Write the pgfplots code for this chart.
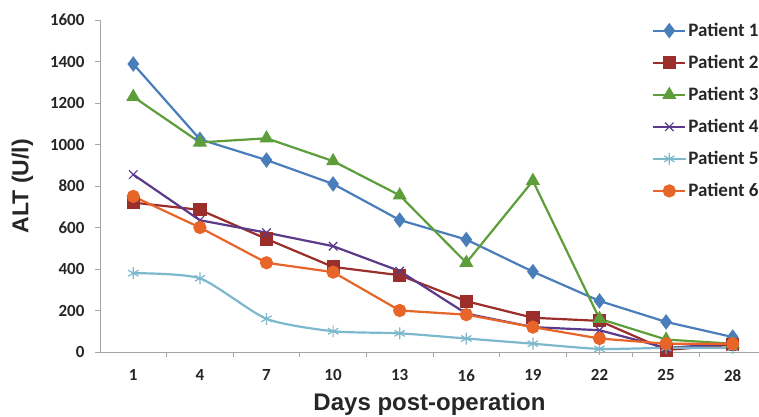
\documentclass[border=0pt]{standalone}
\usepackage{fontspec}
\setmainfont{Carlito}
\newfontfamily\arialfont{Liberation Sans}
\usepackage{pgfplots}
\pgfplotsset{compat=1.18}
\definecolor{c1}{HTML}{4A7EBB}
\definecolor{c2}{HTML}{9B2D2A}
\definecolor{c3}{HTML}{5E9E3A}
\definecolor{c4}{HTML}{5B3A8A}
\definecolor{c5}{HTML}{7DB8CC}
\definecolor{c6}{HTML}{E8652A}
\definecolor{axgray}{HTML}{A6A6A6}
\begin{document}
\begin{tikzpicture}
\useasboundingbox (-100pt,-64pt) rectangle (659pt,352pt);
\begin{axis}[
  scale only axis,
  width=659pt, height=332pt,
  at={(0pt,0pt)}, anchor=south west,
  xmin=-0.5, xmax=9.395,
  ymin=0, ymax=1600,
  axis x line*=bottom, axis y line*=left,
  axis line style={axgray, line width=1pt, -},
  xtick={0,...,9},
  xticklabels={1,4,7,10,13,16,19,22,25,28},
  major x tick style={draw=none},
  minor xtick={0.5,1.5,...,8.5},
  minor tick length=5pt,
  major tick length=5pt,
  tick align=outside,
  tick style={axgray, line width=1pt},
  ytick={0,200,...,1600},
  /pgf/number format/assume math mode=true,
  /pgf/number format/1000 sep={},
  ticklabel style={font=\fontsize{17}{19}\selectfont\bfseries, text=black!85},
  xticklabel style={yshift=-9pt},
  yticklabel style={xshift=-7pt},
  xlabel={Days post-operation},
  ylabel={ALT (U/l)},
  label style={font=\arialfont\fontsize{23}{26}\selectfont\bfseries, text=black!85},
  xlabel style={font=\arialfont\fontsize{24}{27}\selectfont\bfseries, yshift=-4.5pt},
  ylabel style={yshift=10pt},
  legend style={draw=none, fill=none, at={(552pt,331pt)}, anchor=north west,
    font=\fontsize{19}{21}\selectfont\bfseries, row sep=13.2pt, inner sep=0pt,
    text=black!85},
  legend cell align=left,
  legend image code/.code={
    \draw[mark repeat=2,mark phase=2,#1] plot coordinates {(0pt,0pt)(16pt,0pt)(32pt,0pt)};
  },
  every axis plot/.append style={line width=2.2pt, mark options={solid}},
]
\addplot[c1, mark=diamond*, mark size=6pt] coordinates {
(0,1388)(1,1025)(2,925)(3,810)(4,636)(5,542)(6,387)(7,246)(8,145)(9,72)};
\addlegendentry{Patient 1}
\addplot[c2, mark=square*, mark size=5.5pt] coordinates {
(0,720)(1,685)(2,545)(3,410)(4,370)(5,245)(6,165)(7,150)(8,10)(9,35)};
\addlegendentry{Patient 2}
\addplot[c3, mark=triangle*, mark size=6pt] coordinates {
(0,1230)(1,1010)(2,1030)(3,920)(4,755)(5,430)(6,825)(7,160)(8,60)(9,40)};
\addlegendentry{Patient 3}
\addplot[c4, mark=x, mark size=6pt, mark options={line width=1.2pt}] coordinates {
(0,855)(1,635)(2,575)(3,510)(4,390)(5,185)(6,120)(7,105)(8,20)(9,40)};
\addlegendentry{Patient 4}
\addplot[c5, smooth, tension=0.4, mark=asterisk, mark size=6pt, mark options={line width=1.2pt}] coordinates {
(0,380)(1,355)(2,160)(3,100)(4,90)(5,65)(6,40)(7,15)(8,20)(9,20)};
\addlegendentry{Patient 5}
\addplot[c6, mark=*, mark size=5.5pt] coordinates {
(0,750)(1,600)(2,430)(3,385)(4,200)(5,180)(6,120)(7,65)(8,40)(9,40)};
\addlegendentry{Patient 6}
\end{axis}
\end{tikzpicture}
\end{document}
